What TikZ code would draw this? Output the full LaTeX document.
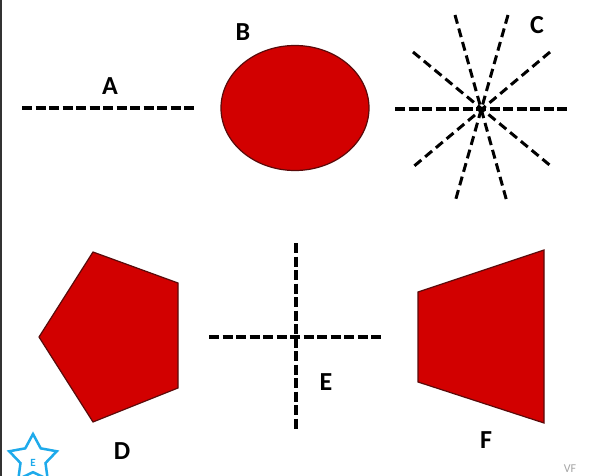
\documentclass[tikz,border=0pt]{standalone}
\usepackage{fontspec}
\setmainfont{Carlito}
\usetikzlibrary{shapes.geometric}
\definecolor{shapered}{RGB}{210,0,0}
\definecolor{shapeedge}{RGB}{90,10,10}
\definecolor{starblue}{RGB}{30,170,235}
\tikzset{
  thickdash/.style={line width=4pt, dash pattern=on 10pt off 3.5pt},
  thindash/.style={line width=3pt, dash pattern=on 9pt off 5pt},
  redshape/.style={fill=shapered, draw=shapeedge, line width=1.2pt, line join=miter},
  lab/.style={font=\fontsize{26}{28}\selectfont\bfseries, text=black, inner sep=0pt},
}
\begin{document}
\begin{tikzpicture}[x=1pt,y=-1pt]
\useasboundingbox (0,0) rectangle (589,476);
\fill[white] (0,0) rectangle (589,476);
\draw[line width=1.5pt, black!80] (1,0) -- (1,476);
% A
\coordinate (a1) at (22,108); \coordinate (a2) at (195,108);
\draw[thickdash] (a1) -- (a2);
\node[lab] (la) at (110,86) {A};
% B
\node[redshape, ellipse, minimum width=148pt, minimum height=125pt, inner sep=0pt] (b) at (295,108) {};
\node[lab] (lb) at (243,32) {B};
% C
\coordinate (c) at (481,109);
\coordinate (c1) at (395,109); \coordinate (c2) at (568,109);
\draw[thickdash] (c1) -- (c2);
\coordinate (p1) at (455,15); \coordinate (q1) at (507,202);
\coordinate (p2) at (508,15); \coordinate (q2) at (455,202);
\coordinate (p3) at (413,52); \coordinate (q3) at (552,167);
\coordinate (p4) at (550,52); \coordinate (q4) at (413,167);
\draw[thindash] (p1) -- (q1);
\draw[thindash] (p2) -- (q2);
\draw[thindash] (p3) -- (q3);
\draw[thindash] (p4) -- (q4);
\node[lab] (lc) at (537,25) {C};
% D
\draw[redshape] (93,252) -- (178,283) -- (178,388) -- (93,422) -- (39,337) -- cycle;
\node[lab] (ld) at (122,451) {D};
% E
\coordinate (e1) at (296,243); \coordinate (e2) at (296,431);
\coordinate (e3) at (209,337); \coordinate (e4) at (382,337);
\draw[thickdash] (e1) -- (e2);
\draw[thickdash] (e3) -- (e4);
\node[lab] (le) at (326,382) {E};
% F
\draw[redshape] (418,292) -- (544,250) -- (544,423) -- (418,382) -- cycle;
\node[lab] (lf) at (486,440) {F};
% star
\node[star, star points=5, star point ratio=1.9, minimum size=50pt, draw=starblue, line width=2.5pt, fill=white, inner sep=0pt] (st) at (33,459) {};
\node[font=\fontsize{11}{12}\selectfont\bfseries, text=starblue, inner sep=0pt] (se) at (33,463) {E};
% VF
\node[font=\fontsize{12}{13}\selectfont, text=gray!70, inner sep=0pt] (vf) at (570,469) {VF};
\end{tikzpicture}
\end{document}
